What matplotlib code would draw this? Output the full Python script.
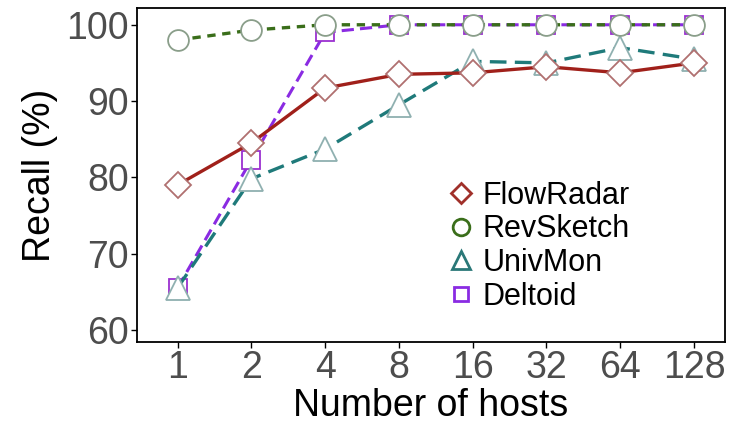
import matplotlib.pyplot as plt
import numpy as np

plt.rcParams['font.family'] = ['Liberation Sans', 'DejaVu Sans']

hosts = ["1", "2", "4", "8", "16", "32", "64", "128"]
flowradar = [79.0, 84.5, 91.7, 93.5, 93.7, 94.5, 93.7, 95.0]
revsketch = [98.0, 99.3, 100.0, 100.0, 100.0, 100.0, 100.0, 100.0]
univmon = [65.5, 79.8, 83.7, 89.5, 95.2, 95.0, 97.0, 95.5]
deltoid = [65.5, 82.3, 99.0, 100.0, 100.0, 100.0, 100.0, 100.0]

x = np.arange(len(hosts))

fig = plt.figure(figsize=(7.35, 4.24), dpi=100)
ax = fig.add_axes([137/735, 1 - 342/424, (725-137)/735, (342-8)/424])

ms = 15
ax.plot(x, deltoid, color="#8a2be2", ls=(0, (4, 2)), lw=2.2, marker="s", ms=ms-2,
        mfc="white", mec="#9b30d0", mew=1.3, label="Deltoid", zorder=2)
ax.plot(x, univmon, color="#1f7a7a", ls=(0, (5, 2.5)), lw=2.4, marker="^", ms=ms+2,
        mfc="white", mec="#8fb0b0", mew=1.3, label="UnivMon", zorder=3)
ax.plot(x, revsketch, color="#3a6e1a", ls=(0, (2.5, 2)), lw=2.4, marker="o", ms=ms,
        mfc="white", mec="#8a9e8a", mew=1.3, label="RevSketch", zorder=4)
ax.plot(x, flowradar, color="#a0201a", ls="-", lw=2.4, marker="D", ms=ms-2,
        mfc="white", mec="#b07070", mew=1.3, label="FlowRadar", zorder=5)

ax.set_xlim(-0.55, 7.42)
ax.set_ylim(58.4, 102.2)
ax.set_xticks(x)
ax.set_xticklabels(hosts)
ax.set_yticks([60, 70, 80, 90, 100])
ax.tick_params(labelsize=27, labelcolor="#4d4d4d", length=4, width=1, pad=2)
ax.set_xlabel("Number of hosts", fontsize=27, labelpad=1)
ax.set_ylabel("Recall (%)", fontsize=27, labelpad=6)
for s in ax.spines.values():
    s.set_linewidth(1.3)

h, l = ax.get_legend_handles_labels()
leg = ax.legend(h[::-1], l[::-1], loc="upper left", bbox_to_anchor=(0.51, 0.52),
                frameon=False, fontsize=22, handlelength=0.8, handletextpad=0.3,
                labelspacing=0.12, borderaxespad=0, markerscale=0.8)
for lh, c in zip(leg.get_lines(), ["#a0302a", "#3a6e1a", "#2a7878", "#8a2be2"]):
    lh.set_linestyle("none")
    lh.set_markeredgecolor(c)
    lh.set_markeredgewidth(2)

fig.savefig("out.png", dpi=100)
